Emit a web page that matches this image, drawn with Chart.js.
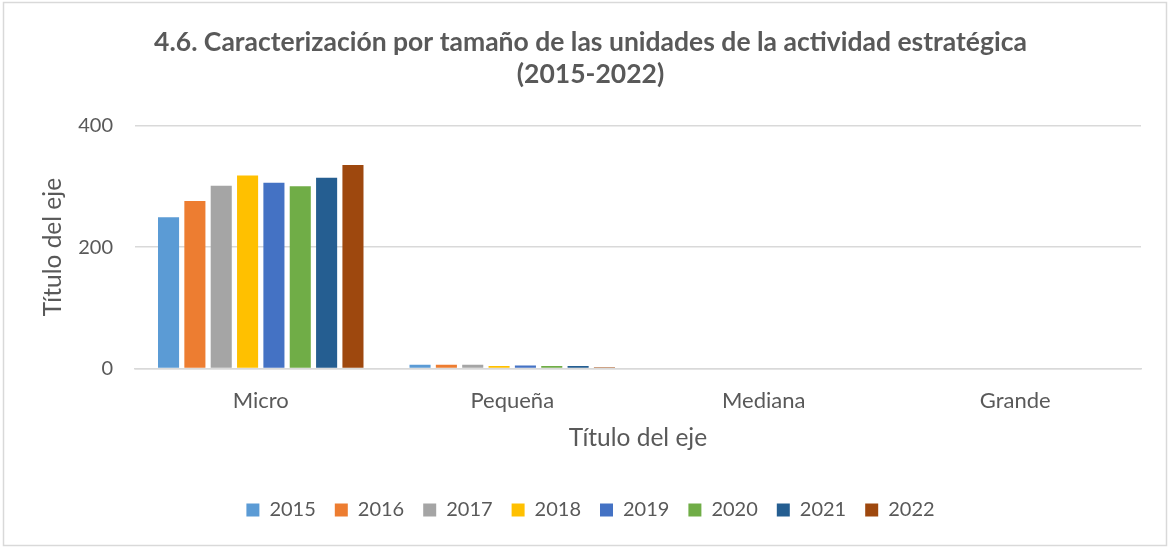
<!DOCTYPE html>
<html lang="es">
<head>
<meta charset="utf-8">
<title>4.6. Caracterización por tamaño de las unidades de la actividad estratégica (2015-2022)</title>
<script src="https://cdn.jsdelivr.net/npm/chart.js@4/dist/chart.umd.min.js"></script>
<style>
  html, body { margin: 0; padding: 0; background: #ffffff; }
  #wrap { position: relative; width: 1170px; height: 548px; }
  canvas { display: block; }
</style>
</head>
<body>
<div id="wrap"><canvas id="chart" width="1170" height="548"></canvas></div>
<script>
// Tamaños de unidad (categorías del eje X)
const categories = ['Micro', 'Pequeña', 'Mediana', 'Grande'];

// Años de la serie
const years = ['2015', '2016', '2017', '2018', '2019', '2020', '2021', '2022'];

// Número de unidades por año, en el orden de las categorías
const v2015 = [249, 6, 0, 0];
const v2016 = [276, 6, 0, 0];
const v2017 = [301, 6, 0, 0];
const v2018 = [318, 4, 0, 0];
const v2019 = [306, 5, 0, 0];
const v2020 = [300, 4, 0, 0];
const v2021 = [314, 4, 0, 0];
const v2022 = [335, 2, 0, 0];

// Marcas del eje Y
const yTicks = [0, 200, 400];

const seriesValues = [v2015, v2016, v2017, v2018, v2019, v2020, v2021, v2022];
const palette = ['#5B9BD5', '#ED7D31', '#A5A5A5', '#FFC000', '#4472C4', '#70AD47', '#255E91', '#9E480E'];

const FONT = 'Lato, "Liberation Sans", sans-serif';
const TEXT = '#595959';
const GRID = '#d9d9d9';

// Marco exterior del gráfico
const frame = {
  id: 'frame',
  beforeDraw(chart) {
    const c = chart.ctx;
    c.save();
    c.fillStyle = '#ffffff';
    c.fillRect(0, 0, chart.width, chart.height);
    c.strokeStyle = GRID;
    c.lineWidth = 1.5;
    c.strokeRect(3.5, 2.5, chart.width - 7, chart.height - 5);
    c.restore();
  }
};

new Chart(document.getElementById('chart'), {
  type: 'bar',
  data: {
    labels: categories,
    datasets: years.map((y, i) => ({
      label: y,
      data: seriesValues[i],
      backgroundColor: palette[i],
      borderWidth: 0,
      categoryPercentage: 0.838,
      barPercentage: 0.8
    }))
  },
  options: {
    responsive: false,
    animation: false,
    devicePixelRatio: 1,
    layout: { padding: { left: 40, right: 29, top: 14, bottom: 18 } },
    plugins: {
      title: {
        display: true,
        text: ['4.6. Caracterización por tamaño de las unidades de la actividad estratégica', '(2015-2022)'],
        color: TEXT,
        font: { family: FONT, size: 26.5, weight: 'bold' },
        lineHeight: 1.25,
        padding: { top: 12.5, bottom: 35.5 }
      },
      legend: {
        position: 'bottom',
        labels: {
          color: TEXT,
          font: { family: FONT, size: 20 },
          boxWidth: 13,
          boxHeight: 13,
          padding: 19
        }
      },
      tooltip: { enabled: false }
    },
    scales: {
      x: {
        grid: { display: false, drawTicks: false },
        border: { display: true, color: GRID, width: 1.5 },
        ticks: { color: TEXT, font: { family: FONT, size: 22 }, padding: 19 },
        title: {
          display: true,
          text: 'Título del eje',
          color: TEXT,
          font: { family: FONT, size: 24.5 },
          padding: { top: -9.6, bottom: 28.3 }
        }
      },
      y: {
        min: 0,
        max: 400,
        afterBuildTicks(scale) { scale.ticks = yTicks.map(v => ({ value: v })); },
        grid: { color: GRID, lineWidth: 1.5, drawTicks: false },
        border: { display: false },
        ticks: { color: TEXT, font: { family: FONT, size: 20 }, padding: 22 },
        title: {
          display: true,
          text: 'Título del eje',
          color: TEXT,
          font: { family: FONT, size: 24.5 },
          padding: { top: -1.7, bottom: 0 }
        },
        afterFit(scale) { scale.width = 95; }
      }
    }
  },
  plugins: [frame]
});
</script>
</body>
</html>
